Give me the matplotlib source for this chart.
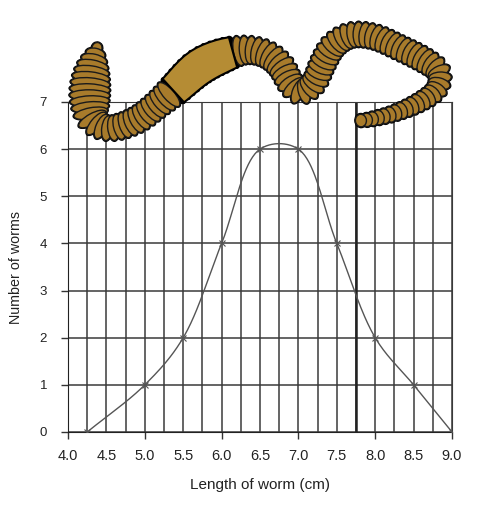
import numpy as np
import matplotlib
matplotlib.use("Agg")
import matplotlib.pyplot as plt
from matplotlib.patches import Ellipse, Polygon

plt.rcParams["font.family"] = ["Liberation Sans", "DejaVu Sans"]

# data
length_cm = [4.25, 5.0, 5.5, 6.0, 6.5, 7.0, 7.5, 8.0, 8.5, 9.0]
n_worms = [0, 1, 2, 4, 6, 6, 4, 2, 1, 0]
x_ticks = [4.0, 4.5, 5.0, 5.5, 6.0, 6.5, 7.0, 7.5, 8.0, 8.5, 9.0]
y_ticks = [0, 1, 2, 3, 4, 5, 6, 7]

# worm illustration outline (figure pixels: x, y, body width)
worm_path = [
    (97, 48, 10), (95, 56, 22), (92, 70, 34), (90, 88, 40), (90, 105, 38),
    (93, 120, 30), (106, 128, 25), (122, 126, 26), (140, 118, 27),
    (158, 104, 28), (174, 90, 32), (198, 68, 36), (222, 56, 34),
    (246, 50, 28), (266, 54, 27), (281, 66, 27), (291, 84, 26),
    (301, 92, 25), (314, 83, 25), (323, 63, 26), (334, 45, 26),
    (352, 35, 25), (375, 37, 25), (400, 48, 25), (424, 60, 25),
    (439, 72, 23), (437, 89, 21), (420, 102, 19), (395, 113, 16),
    (372, 119, 14), (357, 121, 12),
]


def catmull_rom(pts, n=20, alpha=0.0, scale=(1.0, 1.0)):
    # Barry-Goldman Catmull-Rom; alpha=0 uniform, 0.5 centripetal
    pts = np.asarray(pts, dtype=float)
    p = np.vstack([2 * pts[0] - pts[1], pts, 2 * pts[-1] - pts[-2]])
    sc = np.ones(p.shape[1])
    sc[:2] = scale
    out = []
    for i in range(1, len(p) - 2):
        P = p[i - 1:i + 3]
        dist = np.hypot(*((np.diff(P[:, :2], axis=0)) * sc[:2]).T)
        k = np.r_[0, np.cumsum(np.maximum(dist, 1e-6) ** alpha)]
        t = np.linspace(k[1], k[2], n, endpoint=False)[:, None]
        A1 = (k[1] - t) / (k[1] - k[0]) * P[0] + (t - k[0]) / (k[1] - k[0]) * P[1]
        A2 = (k[2] - t) / (k[2] - k[1]) * P[1] + (t - k[1]) / (k[2] - k[1]) * P[2]
        A3 = (k[3] - t) / (k[3] - k[2]) * P[2] + (t - k[2]) / (k[3] - k[2]) * P[3]
        B1 = (k[2] - t) / (k[2] - k[0]) * A1 + (t - k[0]) / (k[2] - k[0]) * A2
        B2 = (k[3] - t) / (k[3] - k[1]) * A2 + (t - k[1]) / (k[3] - k[1]) * A3
        C = (k[2] - t) / (k[2] - k[1]) * B1 + (t - k[1]) / (k[2] - k[1]) * B2
        out.append(C)
    out.append(pts[-1:])
    return np.vstack(out)


fig = plt.figure(figsize=(5.04, 5.24), dpi=100)
ax = fig.add_axes([68 / 504, 1 - 432 / 524, 384 / 504, 330 / 524])

ax.set_xlim(4.0, 9.0)
ax.set_ylim(0, 7)
ax.set_xticks(x_ticks)
ax.set_xticklabels([f"{v:.1f}" for v in x_ticks])
ax.set_xticks(np.arange(4.0, 9.01, 0.25), minor=True)
ax.set_yticks(y_ticks)
ax.grid(True, which="both", color="#3a3a3a", lw=1.1)
ax.axvline(7.75, color="#222222", lw=1.8)
ax.set_axisbelow(True)
ax.tick_params(which="minor", length=0)
ax.tick_params(which="major", length=5, width=1, color="#333333",
               labelcolor="#222222")
ax.tick_params(axis="y", pad=10, labelsize=9.5)
ax.tick_params(axis="x", pad=7, labelsize=10.5)
for tick, v in zip(ax.xaxis.get_major_ticks(), x_ticks):
    if v != int(v):
        tick.tick1line.set_visible(False)
for side in ["top", "right"]:
    ax.spines[side].set_color("#3a3a3a")
for side in ["left", "bottom"]:
    ax.spines[side].set_color("#222222")

px_per_x = 384 / 5.0
px_per_y = 330 / 7.0
curve = catmull_rom(list(zip(length_cm, n_worms)), n=40, alpha=0.5,
                    scale=(px_per_x, px_per_y))
ax.plot(curve[:, 0], curve[:, 1], color="#555555", lw=1.0, zorder=3)
ax.plot(length_cm, n_worms, ls="none", marker="x", ms=5, mew=0.8,
        color="#555555", zorder=4)

ax.set_xlabel("Length of worm (cm)", fontsize=11, color="#222222", labelpad=11)
ax.set_ylabel("Number of worms", fontsize=10.3, color="#222222", labelpad=12)

# worm drawing on top
wa = fig.add_axes([0, 0, 1, 1], zorder=5)
wa.set_xlim(0, 504)
wa.set_ylim(524, 0)
wa.axis("off")
wa.patch.set_alpha(0)

dense = catmull_rom(worm_path, n=40)
d = np.r_[0, np.cumsum(np.hypot(*np.diff(dense[:, :2], axis=0).T))]
s = np.arange(0, d[-1], 6.0)
cx = np.interp(s, d, dense[:, 0])
cy = np.interp(s, d, dense[:, 1])
cw = np.interp(s, d, dense[:, 2])
dx = np.gradient(cx)
dy = np.gradient(cy)
ang = np.degrees(np.arctan2(dy, dx))

brown = "#A87B2B"
clit = (cx > 172) & (cx < 236) & (cy < 95)

# thick dark outline behind the rings
for i in range(len(s)):
    wa.add_patch(Ellipse((cx[i], cy[i]), 13.5, cw[i] + 3, angle=ang[i],
                         facecolor="black", edgecolor="none"))
for i in range(len(s)):
    if clit[i]:
        continue
    wa.add_patch(Ellipse((cx[i], cy[i]), 11, cw[i], angle=ang[i],
                         facecolor=brown, edgecolor="#1a1a1a", lw=1.0))

idx = np.where(clit)[0]
nx = -dy[idx] / np.hypot(dx[idx], dy[idx])
ny = dx[idx] / np.hypot(dx[idx], dy[idx])
left = np.c_[cx[idx] + nx * cw[idx] / 2, cy[idx] + ny * cw[idx] / 2]
right = np.c_[cx[idx] - nx * cw[idx] / 2, cy[idx] - ny * cw[idx] / 2]
wa.add_patch(Polygon(np.vstack([left, right[::-1]]), closed=True,
                     facecolor="#B58C34", edgecolor="black", lw=1.5))

fig.savefig("out.png", dpi=100, facecolor="white")
